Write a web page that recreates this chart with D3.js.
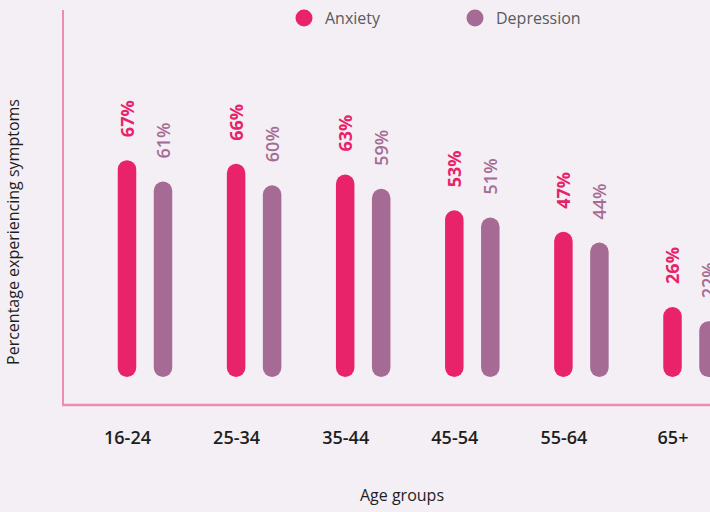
<!DOCTYPE html>
<html>
<head>
<meta charset="utf-8">
<script src="https://cdn.jsdelivr.net/npm/d3@7/dist/d3.min.js"></script>
<style>
html,body{margin:0;padding:0;background:#f3eff4;}
svg{display:block;}
</style>
</head>
<body>
<svg id="chart" width="710" height="512"></svg>
<script>
const categories = ["16-24","25-34","35-44","45-54","55-64","65+"];
const seriesNames = ["Anxiety","Depression"];
const anxiety = [67,66,63,53,47,26];
const depression = [61,60,59,51,44,22];
const colors = {Anxiety:"#e8236a", Depression:"#a66b95"};

const svg = d3.select("#chart");
const W = 710, H = 512;
const font = "'Open Sans', sans-serif";

svg.append("rect").attr("width",W).attr("height",H).attr("fill","#f3eff4");

const x0 = d3.scalePoint().domain(categories).range([127, 672.5]);
const x1 = d3.scalePoint().domain(seriesNames).range([0, 36]);
const y = d3.scaleLinear().domain([0,100]).range([400, 42]);
const barBase = 377, barW = 18.5;

// axes lines
const axisColor = "#ec8db1";
svg.append("line").attr("x1",63).attr("x2",63).attr("y1",10).attr("y2",405)
  .attr("stroke",axisColor).attr("stroke-width",2);
svg.append("line").attr("x1",62).attr("x2",W).attr("y1",405).attr("y2",405)
  .attr("stroke",axisColor).attr("stroke-width",2.5);

const data = [];
categories.forEach((c,i)=>{
  data.push({cat:c, s:"Anxiety", v:anxiety[i]});
  data.push({cat:c, s:"Depression", v:depression[i]});
});

svg.selectAll("rect.bar").data(data).enter().append("rect")
  .attr("class","bar")
  .attr("x", d => x0(d.cat) + x1(d.s) - barW/2)
  .attr("y", d => y(d.v))
  .attr("width", barW)
  .attr("height", d => barBase - y(d.v))
  .attr("rx", barW/2).attr("ry", barW/2)
  .attr("fill", d => colors[d.s]);

svg.selectAll("text.val").data(data).enter().append("text")
  .attr("class","val")
  .attr("transform", d => `translate(${x0(d.cat) + x1(d.s) + 6.5},${y(d.v) - 23}) rotate(-90)`)
  .attr("text-anchor","start")
  .attr("font-family", font)
  .attr("font-size", 18)
  .attr("font-weight", d => d.s==="Anxiety" ? 700 : 600)
  .attr("fill", colors.Anxiety)
  .attr("fill", d => colors[d.s])
  .text(d => d.v + "%");

// x tick labels
const xAxis = d3.axisBottom(x0).tickSize(0).tickPadding(0);
const gx = svg.append("g").attr("transform","translate(0,431)").call(xAxis);
gx.select(".domain").remove();
gx.selectAll("text")
  .attr("font-family", font).attr("font-size", 18).attr("font-weight", 600)
  .attr("fill", "#1e1e1e").attr("dy","0.71em");

// axis titles
svg.append("text").attr("x",402).attr("y",501).attr("text-anchor","middle")
  .attr("font-family",font).attr("font-size",16).attr("fill","#1e1e1e")
  .text("Age groups");
svg.append("text").attr("transform","translate(19,232) rotate(-90)")
  .attr("text-anchor","middle")
  .attr("font-family",font).attr("font-size",16).attr("fill","#1e1e1e")
  .text("Percentage experiencing symptoms");

// legend
const legendX = [304, 475];
seriesNames.forEach((s,i)=>{
  svg.append("circle").attr("cx",legendX[i]).attr("cy",18).attr("r",8.5).attr("fill",colors[s]);
  svg.append("text").attr("x",legendX[i]+21).attr("y",24)
    .attr("font-family",font).attr("font-size",16).attr("fill","#5a5a5a").text(s);
});
</script>
</body>
</html>
